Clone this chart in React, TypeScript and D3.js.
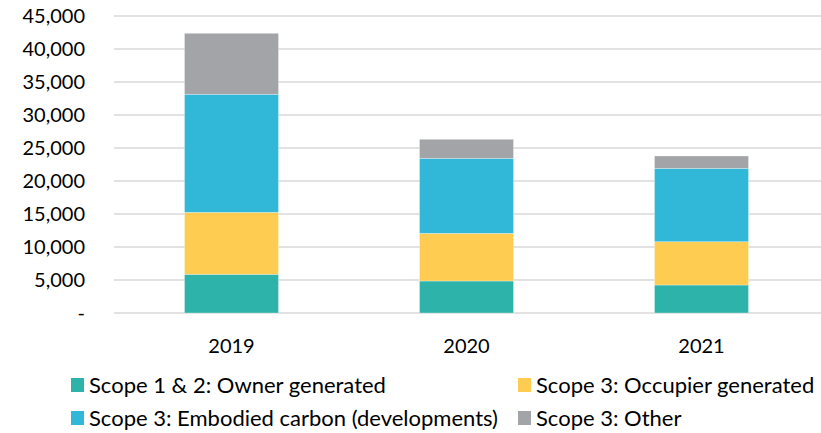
import React, { useEffect, useRef } from 'react';
import * as d3 from 'd3';

const years = ['2019', '2020', '2021'];
const seriesNames = [
  'Scope 1 & 2: Owner generated',
  'Scope 3: Occupier generated',
  'Scope 3: Embodied carbon (developments)',
  'Scope 3: Other',
];
const ownerGenerated = [5860, 4850, 4240];
const occupierGenerated = [9390, 7220, 6560];
const embodiedCarbon = [17890, 11370, 11120];
const otherScope3 = [9240, 2880, 1870];
const colors = ['#2db3aa', '#fecc50', '#31b8d9', '#a3a4a8'];
const yTicks = [0, 5000, 10000, 15000, 20000, 25000, 30000, 35000, 40000, 45000];

const App: React.FC = () => {
  const svgRef = useRef<SVGSVGElement | null>(null);
  const width = 821;
  const height = 433;

  useEffect(() => {
    if (!svgRef.current) return;
    const svg = d3.select(svgRef.current);
    svg.selectAll('*').remove();

    const margin = { top: 16, right: 2, bottom: 120, left: 114 };
    const font = 'Lato, "Open Sans", sans-serif';

    const rows = years.map((year, i) => ({
      year,
      s0: ownerGenerated[i],
      s1: occupierGenerated[i],
      s2: embodiedCarbon[i],
      s3: otherScope3[i],
    }));
    const keys = ['s0', 's1', 's2', 's3'];

    const x = d3
      .scaleBand()
      .domain(years)
      .range([margin.left, width - margin.right])
      .paddingInner(0.6)
      .paddingOuter(0.3);

    const y = d3
      .scaleLinear()
      .domain([0, 45000])
      .range([height - margin.bottom, margin.top]);

    // gridlines
    svg
      .append('g')
      .selectAll('line')
      .data(yTicks)
      .join('line')
      .attr('x1', margin.left)
      .attr('x2', width)
      .attr('y1', (d) => y(d))
      .attr('y2', (d) => y(d))
      .attr('stroke', '#d9d9d9')
      .attr('stroke-width', 1.5);

    // y tick labels
    svg
      .append('g')
      .selectAll('text')
      .data(yTicks)
      .join('text')
      .attr('x', 85)
      .attr('y', (d) => y(d))
      .attr('dy', '0.35em')
      .attr('text-anchor', 'end')
      .style('font-family', font)
      .style('font-size', '20px')
      .style('fill', '#000')
      .text((d) => (d === 0 ? '-' : d3.format(',')(d)));

    const stacked = d3.stack<any>().keys(keys)(rows);

    svg
      .append('g')
      .selectAll('g')
      .data(stacked)
      .join('g')
      .attr('fill', (_d, i) => colors[i])
      .selectAll('rect')
      .data((d) => d)
      .join('rect')
      .attr('x', (d) => x(d.data.year)!)
      .attr('width', x.bandwidth())
      .attr('y', (d) => y(d[1]))
      .attr('height', (d) => y(d[0]) - y(d[1]))
      .attr('stroke', 'rgba(255,255,255,0.4)')
      .attr('stroke-width', 0.75);

    // x labels
    svg
      .append('g')
      .selectAll('text')
      .data(years)
      .join('text')
      .attr('x', (d) => x(d)! + x.bandwidth() / 2)
      .attr('y', 353)
      .attr('text-anchor', 'middle')
      .style('font-family', font)
      .style('font-size', '20px')
      .style('fill', '#000')
      .text((d) => d);

    // legend
    const legendPos = [
      { x: 71, y: 385 },
      { x: 518, y: 385 },
      { x: 71, y: 418 },
      { x: 518, y: 418 },
    ];
    const legend = svg
      .append('g')
      .selectAll('g')
      .data(seriesNames)
      .join('g')
      .attr('transform', (_d, i) => `translate(${legendPos[i].x},${legendPos[i].y})`);
    legend
      .append('rect')
      .attr('x', 0)
      .attr('y', -7)
      .attr('width', 13)
      .attr('height', 14)
      .attr('fill', (_d, i) => colors[i]);
    legend
      .append('text')
      .attr('x', 18)
      .attr('dy', '0.35em')
      .style('font-family', font)
      .style('font-size', '22px')
      .style('fill', '#000')
      .text((d) => d);
  }, []);

  return (
    <svg
      ref={svgRef}
      width={width}
      height={height}
      style={{ position: 'absolute', left: 0, top: 0, background: '#fff' }}
    ></svg>
  );
};

export default App;
